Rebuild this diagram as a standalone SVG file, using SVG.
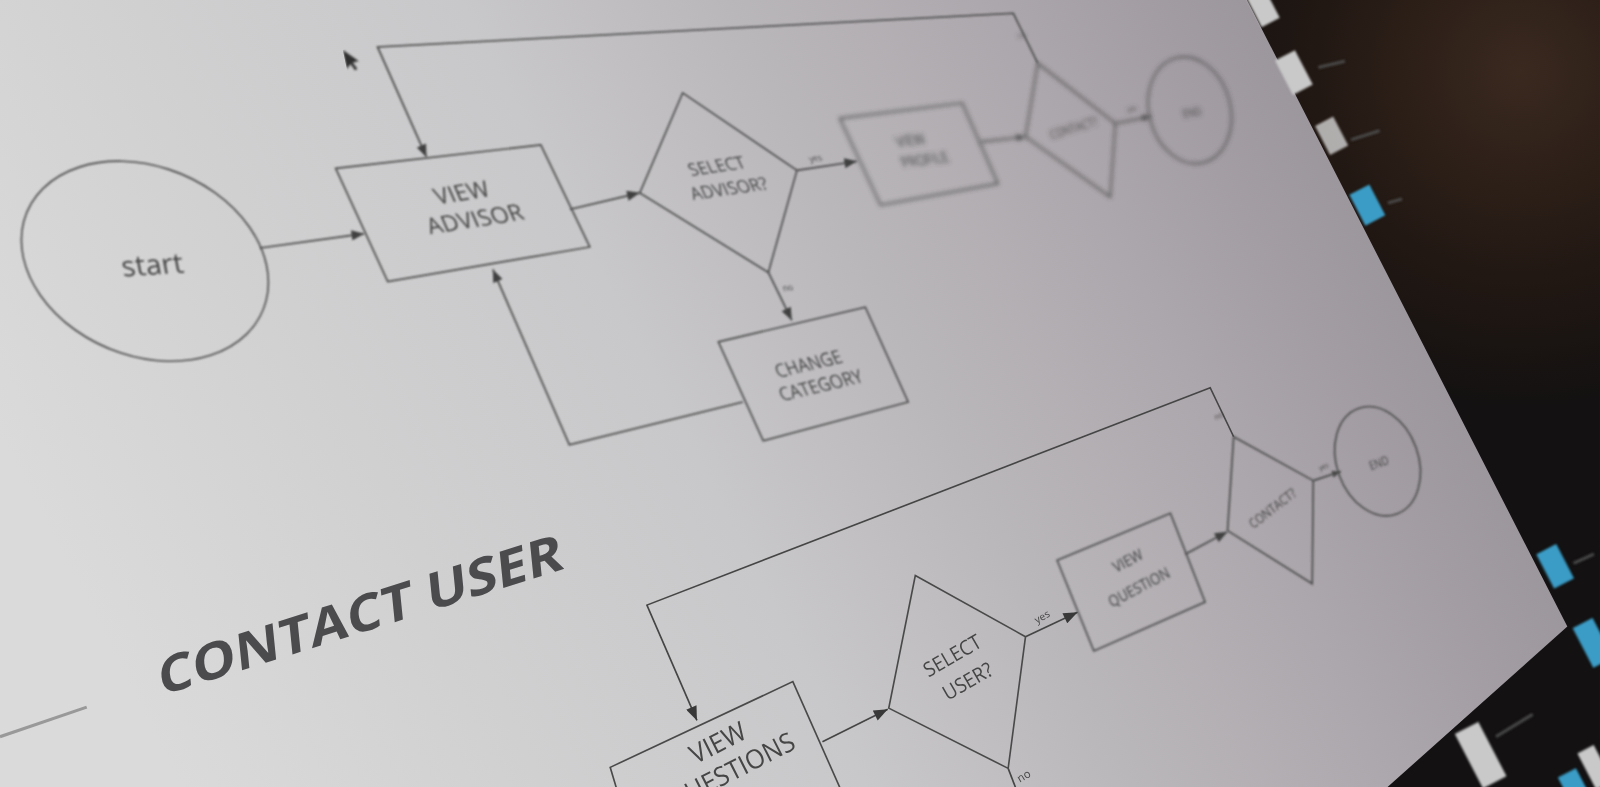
<svg xmlns="http://www.w3.org/2000/svg" width="1600" height="787" viewBox="0 0 1600 787">
<defs>
  <linearGradient id="scr" gradientUnits="userSpaceOnUse" x1="150" y1="720" x2="1330" y2="110">
    <stop offset="0" stop-color="#dadada"/>
    <stop offset="0.45" stop-color="#c8c7c9"/>
    <stop offset="0.8" stop-color="#aca7ac"/>
    <stop offset="1" stop-color="#99939a"/>
  </linearGradient>
  <radialGradient id="warm" cx="1490" cy="70" r="330" gradientUnits="userSpaceOnUse">
    <stop offset="0" stop-color="#3a291f"/>
    <stop offset="0.6" stop-color="#221813"/>
    <stop offset="1" stop-color="#131111"/>
  </radialGradient>
  <marker id="ahL" viewBox="0 0 10 8" refX="10" refY="4" markerWidth="15" markerHeight="11" markerUnits="userSpaceOnUse" orient="auto"><path d="M0,0 L10,4 L0,8 z" fill="#383838"/></marker>
  <marker id="ahM" viewBox="0 0 10 8" refX="10" refY="4" markerWidth="13" markerHeight="10" markerUnits="userSpaceOnUse" orient="auto"><path d="M0,0 L10,4 L0,8 z" fill="#404040"/></marker>
  <marker id="ahS" viewBox="0 0 10 8" refX="10" refY="4" markerWidth="9" markerHeight="7" markerUnits="userSpaceOnUse" orient="auto"><path d="M0,0 L10,4 L0,8 z" fill="#484848"/></marker>
  <filter id="b0" filterUnits="userSpaceOnUse" x="0" y="0" width="1600" height="800"><feGaussianBlur stdDeviation="0.4"/></filter>
  <filter id="b1" filterUnits="userSpaceOnUse" x="0" y="0" width="1600" height="800"><feGaussianBlur stdDeviation="1.1"/></filter>
  <filter id="b2" filterUnits="userSpaceOnUse" x="0" y="0" width="1600" height="800"><feGaussianBlur stdDeviation="1.9"/></filter>
</defs>
<style>
  .sh{fill:none;stroke:#4a4a4a;stroke-width:1.6}
  .ln{fill:none;stroke:#454545;stroke-width:1.6}
  .t{font-family:"Open Sans","Liberation Sans",sans-serif;fill:#454545;text-anchor:middle;dominant-baseline:central}
  .h{font-family:"Open Sans","Liberation Sans",sans-serif;font-weight:700;fill:#4b4b4e}
  .tab{fill:#c9c9c9}
  .blue{fill:#3b9cc6}
  .dim{stroke:#4a4a4a;stroke-width:3;fill:none}
</style>
<g transform="scale(1.0204)">
  <!-- screen and surroundings -->
  <g id="scene">
    <rect x="0" y="0" width="1568" height="772" fill="url(#scr)"/>
    <polygon points="1222,0 1568,0 1568,772 1359,772 1536,614" fill="url(#warm)"/>
    <g filter="url(#b1)">
      <rect class="tab" x="-10" y="-18" width="20" height="36" transform="translate(1237,6) rotate(-27.4)"/>
      <rect class="tab" x="-11" y="-19" width="22" height="38" transform="translate(1268,71) rotate(-27.4)"/>
      <rect class="tab" x="-10" y="-16" width="20" height="32" transform="translate(1305,133) rotate(-27.4)" opacity="0.85"/>
      <rect class="blue" x="-11" y="-17" width="22" height="34" transform="translate(1340,201) rotate(-27.4)"/>
      <rect class="blue" x="-11" y="-19" width="22" height="38" transform="translate(1524,555) rotate(-27.4)"/>
      <rect class="blue" x="-11" y="-22" width="22" height="44" transform="translate(1561,630) rotate(-27.4)"/>
      <rect class="tab" x="-13" y="-30" width="26" height="60" transform="translate(1451,740) rotate(-27.4)"/>
      <rect class="blue" x="-10" y="-12" width="20" height="24" transform="translate(1541,768) rotate(-27.4)"/>
      <rect class="tab" x="-9" y="-20" width="18" height="40" transform="translate(1563,752) rotate(-27.4)"/>
      <line class="dim" x1="1292" y1="66" x2="1318" y2="60"/>
      <line class="dim" x1="1324" y1="137" x2="1352" y2="128"/>
      <line class="dim" x1="1360" y1="199" x2="1374" y2="195"/>
      <line class="dim" x1="1542" y1="552" x2="1562" y2="543"/>
      <line class="dim" x1="1466" y1="722" x2="1502" y2="700"/>
    </g>
    <line x1="0" y1="722" x2="85" y2="693" stroke="#999" stroke-width="3"/>
    <polygon points="0,0 0,19 4.5,15 7.5,22 10,21 7,14 13,14" fill="#2e2e2e" transform="translate(336,49) rotate(-12)" filter="url(#b1)"/>
  </g>

  <!-- connectors -->
  <g id="connectors">
    <g filter="url(#b1)">
      <path class="ln" d="M255,243 L357,229" marker-end="url(#ahM)"/>
      <path class="ln" d="M559,205 L627,189" marker-end="url(#ahM)"/>
      <path class="ln" d="M1017,62 L993,13 L370,46 L418,154" marker-end="url(#ahM)"/>
      <path class="ln" d="M781,167 L840,158" marker-end="url(#ahM)"/>
      <path class="ln" d="M753,267 L776,314" marker-end="url(#ahM)"/>
      <path class="ln" d="M728,394 L558,436 L483,264" marker-end="url(#ahM)"/>
      <text class="t" font-size="9" transform="matrix(0.9,-0.13,0.4,0.9,799,155)">yes</text>
      <text class="t" font-size="9" transform="matrix(0.9,-0.13,0.4,0.9,772,282)">no</text>
    </g>
    <g filter="url(#b2)">
      <path class="ln" d="M961,139 L1005,134" marker-end="url(#ahS)"/>
      <path class="ln" d="M1093,121 L1128,114" marker-end="url(#ahS)"/>
      <text class="t" font-size="8" transform="matrix(0.75,-0.15,0.35,0.9,1109,106)">yes</text>
      <text class="t" font-size="8" transform="matrix(0.75,-0.15,0.35,0.9,1001,34)">no</text>
    </g>
    <g filter="url(#b0)">
      <path class="ln" d="M1209,428 L1186,380 L634,593 L683,706" marker-end="url(#ahL)"/>
      <path class="ln" d="M806,727 L870,695" marker-end="url(#ahL)"/>
      <path class="ln" d="M1005,624 L1056,600" marker-end="url(#ahL)"/>
      <path class="ln" d="M988,753 L1003,792"/>
      <text class="t" font-size="10" transform="matrix(0.866,-0.5,0.5,0.866,1021,604)">yes</text>
      <text class="t" font-size="11" transform="matrix(0.866,-0.5,0.5,0.866,1003,760)">no</text>
    </g>
    <g filter="url(#b1)">
      <path class="ln" d="M1162,543 L1203,521" marker-end="url(#ahM)"/>
      <path class="ln" d="M1287,471 L1314,462" marker-end="url(#ahS)"/>
      <text class="t" font-size="8" transform="matrix(0.8,-0.35,0.4,0.9,1194,407)">no</text>
      <text class="t" font-size="7" transform="matrix(0.8,-0.35,0.4,0.9,1297,457)">yes</text>
    </g>
  </g>

  <!-- top flow -->
  <g id="start" filter="url(#b1)">
    <circle r="100" class="sh" transform="matrix(1.19,0.03,0.22,0.98,142,256)" vector-effect="non-scaling-stroke"/>
    <text class="t" font-size="28" transform="matrix(1,-0.06,0.18,0.98,149,258)">start</text>
  </g>
  <g id="view-advisor" filter="url(#b1)">
    <polygon class="sh" points="329,165 530,142 578,242 380,276"/>
    <text class="t" font-size="23" transform="matrix(0.97,-0.155,0.40,0.92,452,188)">VIEW</text>
    <text class="t" font-size="23" transform="matrix(0.97,-0.155,0.40,0.92,465,214)">ADVISOR</text>
  </g>
  <g id="select-advisor" filter="url(#b1)">
    <polygon class="sh" points="669,91 781,167 753,267 627,189"/>
    <text class="t" font-size="18" transform="matrix(0.9,-0.13,0.42,0.91,702,162)">SELECT</text>
    <text class="t" font-size="18" transform="matrix(0.9,-0.13,0.42,0.91,714,184)">ADVISOR?</text>
  </g>
  <g id="change-category" filter="url(#b1)">
    <polygon class="sh" points="704,335 848,301 890,394 748,432"/>
    <text class="t" font-size="19" transform="matrix(0.84,-0.2,0.42,0.91,792,356)">CHANGE</text>
    <text class="t" font-size="19" transform="matrix(0.84,-0.2,0.42,0.91,804,377)">CATEGORY</text>
  </g>
  <g id="view-profile" filter="url(#b2)">
    <polygon class="sh" points="823,116 943,101 978,180 863,201"/>
    <text class="t" font-size="16" transform="matrix(0.74,-0.09,0.40,0.88,892,137)">VIEW</text>
    <text class="t" font-size="16" transform="matrix(0.74,-0.09,0.40,0.88,906,156)">PROFILE</text>
  </g>
  <g id="contact-1" filter="url(#b2)">
    <polygon class="sh" points="1017,62 1093,121 1088,193 1005,134"/>
    <text class="t" font-size="13" transform="matrix(0.72,-0.22,0.36,0.9,1052,125)">CONTACT?</text>
  </g>
  <g id="end-1" filter="url(#b2)">
    <ellipse class="sh" cx="1166" cy="108" rx="40" ry="53" transform="rotate(-15 1166 108)"/>
    <text class="t" font-size="12" transform="matrix(0.75,-0.15,0.3,0.92,1168,110)">END</text>
  </g>

  <!-- bottom flow -->
  <g id="heading" filter="url(#b0)">
    <text class="h" font-size="50" textLength="415" lengthAdjust="spacingAndGlyphs" transform="matrix(0.954,-0.3,0.1,0.995,157,682)">CONTACT USER</text>
  </g>
  <g id="view-questions" filter="url(#b0)">
    <path class="sh" d="M610,792 L598,752 L777,668 L832,792"/>
    <text class="t" font-size="26" transform="matrix(0.846,-0.431,0.454,0.891,703,727)">VIEW</text>
    <text class="t" font-size="26" transform="matrix(0.846,-0.431,0.454,0.891,716,755)">QUESTIONS</text>
  </g>
  <g id="select-user" filter="url(#b0)">
    <polygon class="sh" points="897,564 1005,624 988,753 871,694"/>
    <text class="t" font-size="20" transform="matrix(0.797,-0.46,0.5,0.866,933,642)">SELECT</text>
    <text class="t" font-size="20" transform="matrix(0.797,-0.46,0.5,0.866,948,667)">USER?</text>
  </g>
  <g id="view-question" filter="url(#b1)">
    <polygon class="sh" points="1036,549 1147,503 1181,590 1072,638"/>
    <text class="t" font-size="15" transform="matrix(0.78,-0.41,0.47,0.88,1105,549)">VIEW</text>
    <text class="t" font-size="15" transform="matrix(0.78,-0.41,0.47,0.88,1116,575)">QUESTION</text>
  </g>
  <g id="contact-2" filter="url(#b1)">
    <polygon class="sh" points="1209,428 1287,471 1286,572 1203,520"/>
    <text class="t" font-size="13" transform="matrix(0.67,-0.52,0.6,0.8,1247,498)">CONTACT?</text>
  </g>
  <g id="end-2" filter="url(#b1)">
    <ellipse class="sh" cx="1350" cy="452" rx="40" ry="55" transform="rotate(-20 1350 452)"/>
    <text class="t" font-size="12" transform="matrix(0.75,-0.27,0.34,0.94,1351,453)">END</text>
  </g>
</g>
</svg>
